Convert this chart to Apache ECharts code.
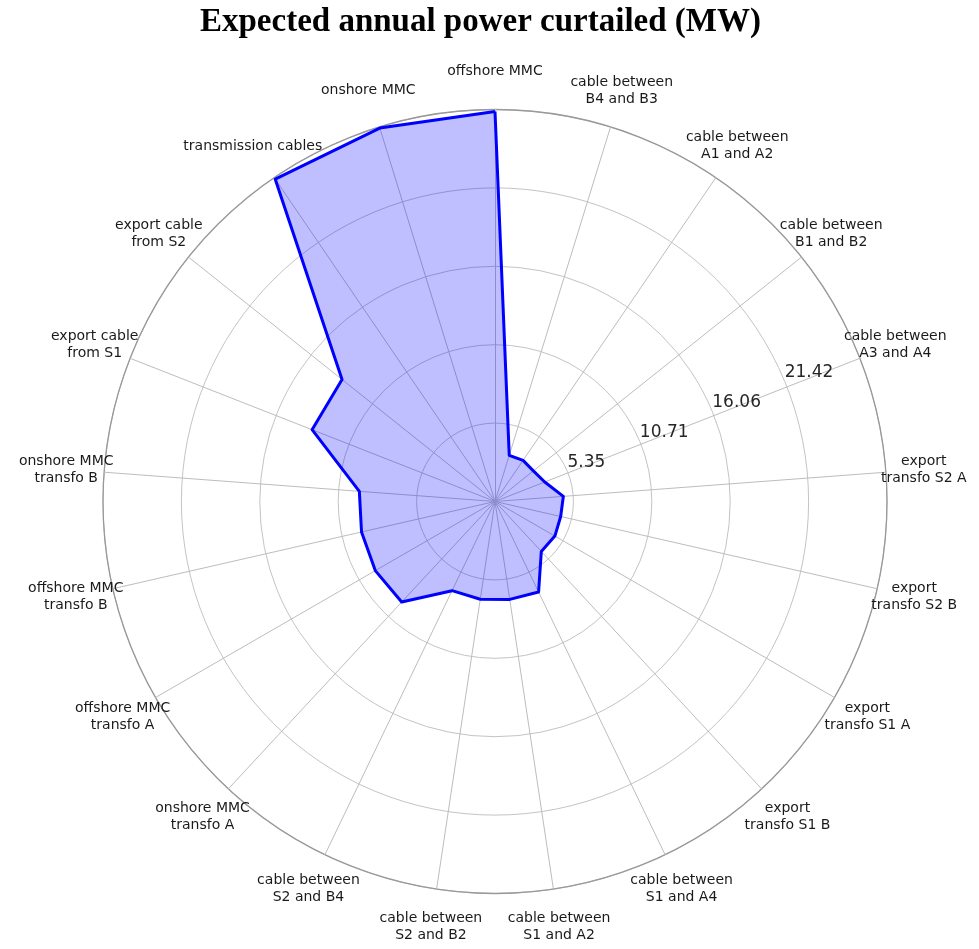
<!DOCTYPE html>
<html>
<head>
<meta charset="utf-8">
<script src="https://cdn.jsdelivr.net/npm/echarts@6/dist/echarts.min.js"></script>
<style>
  html, body { margin: 0; padding: 0; background: #ffffff; }
  #chart { width: 979px; height: 949px; }
</style>
</head>
<body>
<div id="chart"></div>
<script>
// Components, listed clockwise starting from the top spoke
const categories = [
  'offshore MMC',
  'cable between\nB4 and B3',
  'cable between\nA1 and A2',
  'cable between\nB1 and B2',
  'cable between\nA3 and A4',
  'export\ntransfo S2 A',
  'export\ntransfo S2 B',
  'export\ntransfo S1 A',
  'export\ntransfo S1 B',
  'cable between\nS1 and A4',
  'cable between\nS1 and A2',
  'cable between\nS2 and B2',
  'cable between\nS2 and B4',
  'onshore MMC\ntransfo A',
  'offshore MMC\ntransfo A',
  'offshore MMC\ntransfo B',
  'onshore MMC\ntransfo B',
  'export cable\nfrom S1',
  'export cable\nfrom S2',
  'transmission cables',
  'onshore MMC'
];

// Expected annual power curtailed per component (MW)
const curtailed = [
  26.63, 3.30, 3.40, 3.35, 3.65, 4.68, 4.60, 4.72, 4.65, 6.86, 6.76,
  6.75, 6.76, 9.37, 9.44, 9.35, 9.29, 13.42, 13.36, 26.64, 26.69
];

// Radial scale
const radialMax = 26.77;
const radialStep = 5.354;
const radialTickLabels = ['5.35', '10.71', '16.06', '21.42'];

const CENTER = [495, 501.5];
const RADIUS = 392;

// The radar lays indicators out counter-clockwise, so feed them reversed
// (keeping the first one at the top) to get a clockwise order.
const order = [0].concat(categories.map((_, i) => i).slice(1).reverse());
const indicators = order.map(i => ({ name: categories[i], min: 0, max: radialMax }));
const radarValues = order.map(i => curtailed[i]);

const chart = echarts.init(document.getElementById('chart'), null, { renderer: 'canvas' });

chart.setOption({
  backgroundColor: '#ffffff',
  animation: false,
  title: {
    text: 'Expected annual power curtailed (MW)',
    left: 195,
    top: 1,
    textStyle: {
      fontFamily: 'Liberation Serif',
      fontWeight: 'bold',
      fontSize: 33,
      color: '#000000'
    }
  },
  radar: {
    center: CENTER,
    radius: RADIUS,
    startAngle: 90,
    shape: 'circle',
    splitNumber: 5,
    indicator: indicators,
    nameGap: 38,
    axisName: {
      color: '#1a1a1a',
      fontFamily: 'DejaVu Sans',
      fontSize: 14,
      lineHeight: 17,
      align: 'center',
      verticalAlign: 'middle'
    },
    axisLine: { lineStyle: { color: '#bdbdbd', width: 1 } },
    axisTick: { show: false },
    axisLabel: { show: false },
    splitLine: { lineStyle: { color: '#c4c4c4', width: 1 } },
    splitArea: { show: false }
  },
  polar: {
    center: CENTER,
    radius: RADIUS
  },
  angleAxis: {
    type: 'value',
    min: 0,
    max: 360,
    startAngle: 22.5,
    axisLine: { show: true, lineStyle: { color: '#999999', width: 1.3 } },
    axisTick: { show: false },
    axisLabel: { show: false },
    splitLine: { show: false }
  },
  radiusAxis: {
    type: 'value',
    min: 0,
    max: radialMax,
    interval: radialStep,
    axisLine: { show: false },
    axisTick: { show: false },
    splitLine: { show: false },
    axisLabel: {
      show: true,
      margin: 0,
      align: 'left',
      verticalAlign: 'bottom',
      rotate: 0,
      fontFamily: 'DejaVu Sans',
      fontSize: 17,
      color: '#262626',
      formatter: function (v) {
        const idx = Math.round(v / radialStep) - 1;
        return radialTickLabels[idx] !== undefined ? radialTickLabels[idx] : '';
      }
    }
  },
  series: [{
    type: 'radar',
    symbol: 'none',
    lineStyle: { color: '#0000ff', width: 3 },
    areaStyle: { color: 'rgb(0,0,255)', opacity: 0.25 },
    data: [{ value: radarValues, name: 'Expected annual power curtailed' }]
  }]
});
</script>
</body>
</html>
